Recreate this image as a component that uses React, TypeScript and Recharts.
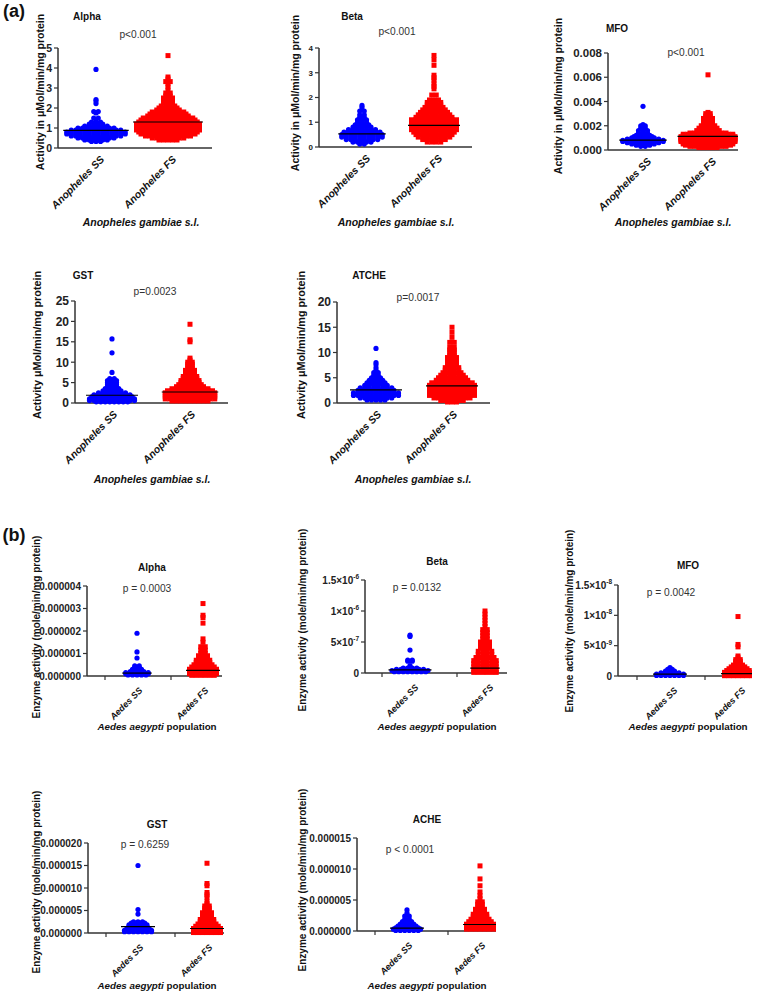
import React from 'react';
import { ScatterChart, Scatter, XAxis, YAxis } from 'recharts';

const FONT = '"Liberation Sans", Arial, Helvetica, sans-serif';
const AXIS = '#333';
const BLUE = '#0000ff';
const RED = '#ff0000';

// each row = [activity level, number of mosquitoes plotted at that level]
type Row = [number, number];

// (a) Anopheles gambiae s.l. — µMol/min/mg protein
const anAlphaSS: Row[] = [[3.93, 1], [2.42, 1], [2.35, 1], [2.22, 1], [1.82, 2], [1.75, 1], [1.5, 2], [1.4, 1], [1.3, 3], [1.2, 4], [1.1, 6], [1.0, 9], [0.9, 12], [0.8, 14], [0.7, 14], [0.6, 12], [0.5, 9], [0.4, 6], [0.33, 3]];
const anAlphaFS: Row[] = [[4.62, 1], [3.55, 1], [3.45, 1], [3.32, 2], [3.2, 1], [3.05, 1], [2.9, 1], [2.75, 2], [2.6, 2], [2.5, 3], [2.4, 3], [2.25, 3], [2.1, 4], [2.0, 5], [1.9, 6], [1.8, 8], [1.7, 9], [1.6, 10], [1.5, 12], [1.4, 13], [1.3, 14], [1.2, 15], [1.1, 15], [1.0, 15], [0.9, 15], [0.8, 14], [0.7, 13], [0.6, 11], [0.5, 8], [0.4, 5]];
const anBetaSS: Row[] = [[1.68, 1], [1.6, 1], [1.45, 2], [1.3, 2], [1.2, 2], [1.1, 3], [1.0, 3], [0.9, 4], [0.8, 5], [0.7, 7], [0.6, 9], [0.5, 10], [0.4, 10], [0.3, 8], [0.2, 5], [0.12, 2]];
const anBetaFS: Row[] = [[3.7, 1], [3.52, 1], [3.3, 1], [2.9, 1], [2.8, 1], [2.7, 1], [2.55, 1], [2.45, 1], [2.35, 1], [2.1, 2], [1.9, 3], [1.8, 4], [1.7, 4], [1.6, 5], [1.5, 6], [1.4, 7], [1.3, 8], [1.2, 9], [1.1, 11], [1.0, 11], [0.9, 11], [0.8, 11], [0.7, 11], [0.6, 10], [0.5, 9], [0.4, 8], [0.3, 6], [0.2, 4]];
const anMfoSS: Row[] = [[0.0036, 1], [0.0021, 1], [0.002, 2], [0.0018, 2], [0.0016, 3], [0.0014, 3], [0.0012, 4], [0.0011, 5], [0.001, 6], [0.0009, 8], [0.0008, 10], [0.0007, 10], [0.0006, 8], [0.0005, 6], [0.0004, 4], [0.0003, 2]];
const anMfoFS: Row[] = [[0.0062, 1], [0.0031, 1], [0.003, 2], [0.0028, 2], [0.0026, 3], [0.0024, 3], [0.0022, 3], [0.002, 4], [0.0018, 5], [0.0016, 6], [0.0014, 9], [0.0013, 12], [0.0012, 12], [0.0011, 13], [0.001, 13], [0.0009, 13], [0.0008, 13], [0.0007, 13], [0.0006, 12], [0.0005, 12], [0.0004, 11], [0.0003, 9], [0.0002, 5]];
const anGstSS: Row[] = [[15.7, 1], [12.3, 1], [7.5, 1], [6, 2], [5.5, 3], [5, 3], [4.5, 3], [4, 3], [3.5, 4], [3, 5], [2.5, 7], [2, 9], [1.5, 10], [1, 11], [0.6, 11], [0.3, 8]];
const anGstFS: Row[] = [[19.3, 1], [15.5, 1], [15, 1], [11, 1], [10.5, 1], [10, 2], [9.5, 2], [9, 2], [8.5, 2], [8, 3], [7.5, 3], [7, 3], [6.5, 4], [6, 4], [5.5, 5], [5, 5], [4.5, 6], [4, 7], [3.5, 9], [3, 11], [2.5, 12], [2, 12], [1.5, 12], [1, 12], [0.5, 9]];
const anAtcheSS: Row[] = [[10.8, 1], [8, 1], [7.6, 1], [7, 1], [6.5, 1], [6, 2], [5.5, 2], [5, 3], [4.5, 4], [4, 5], [3.5, 6], [3, 8], [2.5, 9], [2, 11], [1.5, 11], [1, 8], [0.6, 5]];
const anAtcheFS: Row[] = [[15, 1], [14, 1], [13, 1], [12, 2], [11, 2], [10.5, 2], [10, 2], [9.5, 2], [9, 3], [8.5, 3], [8, 3], [7.5, 3], [7, 4], [6.5, 4], [6, 5], [5.5, 6], [5, 7], [4.5, 8], [4, 10], [3.5, 11], [3, 11], [2.5, 11], [2, 11], [1.5, 11], [1, 9], [0.5, 6], [0.2, 3]];

// (b) Aedes aegypti — mole/min/mg protein, in the unit noted per series
const aeAlphaSS: Row[] = [[1.9, 1], [1.07, 1], [0.8, 1], [0.45, 2], [0.38, 2], [0.3, 3], [0.2, 4], [0.15, 6], [0.1, 6], [0.05, 5]]; // ×1e-6
const aeAlphaFS: Row[] = [[3.22, 1], [2.7, 1], [2.6, 1], [2.35, 1], [1.65, 1], [1.5, 1], [1.3, 2], [1.15, 2], [1.0, 2], [0.9, 3], [0.8, 3], [0.7, 4], [0.6, 4], [0.5, 5], [0.4, 6], [0.3, 7], [0.2, 7], [0.1, 7], [0.03, 6]];
const aeBetaSS: Row[] = [[6.1, 1], [5.9, 1], [3.7, 1], [2.1, 2], [1.9, 2], [1.2, 1], [0.8, 4], [0.6, 7], [0.4, 9], [0.2, 8]]; // ×1e-7
const aeBetaFS: Row[] = [[10, 1], [9.5, 1], [9, 1], [8.5, 1], [8, 1], [7.5, 1], [7, 2], [6.5, 2], [6, 2], [5.5, 2], [5, 3], [4.5, 3], [4, 3], [3.5, 4], [3, 4], [2.5, 5], [2, 6], [1.5, 6], [1, 6], [0.5, 6], [0.1, 6]];
const aeMfoSS: Row[] = [[1.4, 1], [1.1, 2], [0.8, 3], [0.5, 5], [0.3, 7], [0.1, 7]]; // ×1e-9
const aeMfoFS: Row[] = [[9.8, 1], [5.2, 1], [4.8, 1], [3.3, 1], [3.0, 1], [2.7, 2], [2.4, 2], [2.1, 2], [1.8, 3], [1.5, 4], [1.2, 5], [0.9, 6], [0.6, 7], [0.3, 7], [0.05, 7]];
const aeGstSS: Row[] = [[15, 1], [5.2, 1], [4.2, 1], [2.5, 3], [2.2, 4], [1.8, 5], [1.5, 5], [1.2, 5], [0.9, 6], [0.6, 7], [0.3, 7]]; // ×1e-6
const aeGstFS: Row[] = [[15.5, 1], [11, 1], [10.5, 1], [9, 1], [8.5, 1], [8, 1], [7, 1], [6.5, 1], [6, 2], [5.5, 2], [5, 2], [4.5, 3], [4, 3], [3.5, 3], [3, 4], [2.5, 4], [2, 5], [1.5, 6], [1, 7], [0.5, 7], [0.1, 7]];
const aeAcheSS: Row[] = [[3.4, 1], [2.9, 1], [2.4, 2], [1.9, 2], [1.5, 3], [1.1, 4], [0.8, 5], [0.5, 6], [0.3, 7], [0.1, 6]]; // ×1e-6
const aeAcheFS: Row[] = [[10.5, 1], [8.4, 1], [7.3, 1], [6.3, 1], [5.7, 1], [5.2, 1], [4.7, 2], [4.3, 2], [3.9, 2], [3.5, 3], [3.1, 3], [2.7, 4], [2.3, 4], [1.9, 5], [1.5, 6], [1.1, 7], [0.7, 7], [0.3, 7]];

// group means (horizontal bars)
const anMeans = { alpha: [0.88, 1.3], beta: [0.53, 0.87], mfo: [0.00082, 0.00112], gst: [1.9, 2.7], atche: [2.6, 3.4] };
const aeMeans = { alpha: [0.13, 0.25], beta: [0.5, 0.8], mfo: [0.3, 0.4], gst: [1.4, 1.0], ache: [0.45, 1.05] };

const anCats = ['Anopheles SS', 'Anopheles FS'];
const aeCats = ['Aedes SS', 'Aedes FS'];

// y tick values + labels
const ticksAlphaA = [0, 1, 2, 3, 4, 5];
const ticksBetaA = [0, 1, 2, 3, 4];
const ticksMfoA = [0, 0.002, 0.004, 0.006, 0.008];
const labelsMfoA = ['0.000', '0.002', '0.004', '0.006', '0.008'];
const ticksGstA = [0, 5, 10, 15, 20, 25];
const ticksAtcheA = [0, 5, 10, 15, 20];
const ticksAlphaB = [0, 1, 2, 3, 4];
const labelsAlphaB = ['0.000000', '0.000001', '0.000002', '0.000003', '0.000004'];
const ticksBetaB = [0, 5, 10, 15];
const labelsBetaB = ['0', '5×10^-7', '1×10^-6', '1.5×10^-6'];
const ticksMfoB = [0, 5, 10, 15];
const labelsMfoB = ['0', '5×10^-9', '1×10^-8', '1.5×10^-8'];
const ticksGstB = [0, 5, 10, 15, 20];
const labelsGstB = ['0.000000', '0.000005', '0.000010', '0.000015', '0.000020'];
const ticksAcheB = [0, 5, 10, 15];
const labelsAcheB = ['0.000000', '0.000005', '0.000010', '0.000015'];

type PanelCfg = {
  plot: [number, number, number, number];
  centers: [number, number];
  ss: Row[];
  fs: Row[];
  means: number[];
  ticks: number[];
  labels?: string[];
  tickFont: number;
  cats: string[];
  catFont: number;
  catShift: [number, number];
  mark?: number;
  step?: number;
};

const panels: PanelCfg[] = [
  { plot: [58, 48, 154, 100], centers: [96, 168], ss: anAlphaSS, fs: anAlphaFS, means: anMeans.alpha, ticks: ticksAlphaA, tickFont: 10.5, cats: anCats, catFont: 10.4, catShift: [9, 12] },
  { plot: [319, 48, 153, 99], centers: [362, 434], ss: anBetaSS, fs: anBetaFS, means: anMeans.beta, ticks: ticksBetaA, tickFont: 8, cats: anCats, catFont: 10.4, catShift: [9, 12] },
  { plot: [608, 53, 130, 97], centers: [643, 708], ss: anMfoSS, fs: anMfoFS, means: anMeans.mfo, ticks: ticksMfoA, labels: labelsMfoA, tickFont: 11.5, cats: anCats, catFont: 10.4, catShift: [9, 12] },
  { plot: [75, 301, 153, 102], centers: [112, 190], ss: anGstSS, fs: anGstFS, means: anMeans.gst, ticks: ticksGstA, tickFont: 12, cats: anCats, catFont: 10.4, catShift: [6, 12] },
  { plot: [337, 302, 153, 101], centers: [376, 452], ss: anAtcheSS, fs: anAtcheFS, means: anMeans.atche, ticks: ticksAtcheA, tickFont: 12, cats: anCats, catFont: 10.4, catShift: [6, 12] },
  { plot: [87, 586, 135, 90], centers: [137, 203], ss: aeAlphaSS, fs: aeAlphaFS, means: aeMeans.alpha, ticks: ticksAlphaB, labels: labelsAlphaB, tickFont: 10, cats: aeCats, catFont: 9, catShift: [6, 15], mark: 32 },
  { plot: [365, 580, 142, 93], centers: [410, 485], ss: aeBetaSS, fs: aeBetaFS, means: aeMeans.beta, ticks: ticksBetaB, labels: labelsBetaB, tickFont: 10, cats: aeCats, catFont: 9, catShift: [9, 15], mark: 28 },
  { plot: [618, 585, 134, 91], centers: [670, 738], ss: aeMfoSS, fs: aeMfoFS, means: aeMeans.mfo, ticks: ticksMfoB, labels: labelsMfoB, tickFont: 10, cats: aeCats, catFont: 9, catShift: [8, 15], mark: 33 },
  { plot: [88, 843, 136, 90], centers: [138, 207], ss: aeGstSS, fs: aeGstFS, means: aeMeans.gst, ticks: ticksGstB, labels: labelsGstB, tickFont: 10, cats: aeCats, catFont: 9, catShift: [6, 15], mark: 32 },
  { plot: [357, 838, 139, 93], centers: [407, 480], ss: aeAcheSS, fs: aeAcheFS, means: aeMeans.ache, ticks: ticksAcheB, labels: labelsAcheB, tickFont: 10, cats: aeCats, catFont: 9, catShift: [6, 15], mark: 32 },
];

const titles = [
  { t: 'Alpha', x: 87, y: 17 }, { t: 'Beta', x: 352, y: 17 }, { t: 'MFO', x: 617, y: 29 },
  { t: 'GST', x: 83, y: 276 }, { t: 'ATCHE', x: 369, y: 276 },
  { t: 'Alpha', x: 152, y: 568 }, { t: 'Beta', x: 437, y: 562 }, { t: 'MFO', x: 688, y: 566 },
  { t: 'GST', x: 157, y: 825 }, { t: 'ACHE', x: 427, y: 820 },
];
const pValues = [
  { t: 'p<0.001', x: 138, y: 35 }, { t: 'p<0.001', x: 397, y: 32 }, { t: 'p<0.001', x: 686, y: 53 },
  { t: 'p=0.0023', x: 155, y: 292 }, { t: 'p=0.0017', x: 418, y: 298 },
  { t: 'p = 0.0003', x: 147, y: 589 }, { t: 'p = 0.0132', x: 417, y: 588 }, { t: 'p = 0.0042', x: 671, y: 593 },
  { t: 'p = 0.6259', x: 145, y: 845 }, { t: 'p < 0.0001', x: 410, y: 850 },
];
const yTitles = [
  { t: 'Activity in μMol/min/mg protein', x: 40, y: 92, s: 10.5 },
  { t: 'Activity in μMol/min/mg protein', x: 295, y: 93, s: 10.5 },
  { t: 'Activity in μMol/min/mg protein', x: 558, y: 96, s: 10.5 },
  { t: 'Activity μMol/min/mg protein', x: 37, y: 345, s: 10.8 },
  { t: 'Activity μMol/min/mg protein', x: 301, y: 345, s: 10.8 },
  { t: 'Enzyme activity (mole/min/mg protein)', x: 37, y: 627, s: 10 },
  { t: 'Enzyme activity (mole/min/mg protein)', x: 303, y: 620, s: 10 },
  { t: 'Enzyme activity (mole/min/mg protein)', x: 570, y: 621, s: 10 },
  { t: 'Enzyme activity (mole/min/mg protein)', x: 37, y: 882, s: 10 },
  { t: 'Enzyme activity (mole/min/mg protein)', x: 303, y: 880, s: 10 },
];
const anXTitles = [{ x: 141, y: 222 }, { x: 396, y: 222 }, { x: 673, y: 222 }, { x: 152, y: 479 }, { x: 413, y: 479 }];
const aeXTitles = [{ x: 157, y: 727 }, { x: 437, y: 727 }, { x: 688, y: 727 }, { x: 157, y: 986 }, { x: 427, y: 986 }];

function swarm(rows: Row[], cat: number, unitStep: number) {
  const pts: { x: number; y: number }[] = [];
  rows.forEach(([v, n]) => {
    for (let i = 0; i < n; i++) pts.push({ x: cat + (i - (n - 1) / 2) * unitStep, y: v });
  });
  return pts;
}

const Dot = (props: any) => <circle cx={props.cx} cy={props.cy} r={2.6} fill={BLUE} />;
const Sq = (props: any) => <rect x={props.cx - 2.5} y={props.cy - 2.5} width={5} height={5} fill={RED} />;
const Nothing = () => <g />;

function ValTick(props: any) {
  const { x, y, index, labels, ticks, font } = props;
  const s: string = labels ? labels[index] : String(ticks[index]);
  const [base, exp] = s.split('^');
  return (
    <text x={x} y={y} dy={font * 0.36} textAnchor="end" fontSize={font} fontWeight="bold" fontFamily={FONT} fill="#222">
      {base}
      {exp ? <tspan dy={-font * 0.45} fontSize={font * 0.65}>{exp}</tspan> : null}
    </text>
  );
}

function CatTick(props: any) {
  const { x, y, index, cats, font, shift, mark } = props;
  return (
    <g>
      {mark ? <line x1={x - mark} x2={x - mark} y1={y} y2={y + 4} stroke={AXIS} strokeWidth={1.2} /> : null}
      <text transform={`translate(${x + shift[0]},${y + shift[1]}) rotate(-45)`} textAnchor="end" fontSize={font} fontWeight="bold" fontStyle="italic" fontFamily={FONT} fill="#111">
        {cats[index]}
      </text>
    </g>
  );
}

function Panel({ p }: { p: PanelCfg }) {
  const [px, py, pw, ph] = p.plot;
  const s = p.centers[1] - p.centers[0];
  const x0 = 1 - (p.centers[0] - px) / s;
  const x1 = x0 + pw / s;
  const step = p.step ?? 4.5;
  const ss = swarm(p.ss, 1, step / s);
  const fs = swarm(p.fs, 2, step / s);
  const half = (rows: Row[]) => ((Math.max(...rows.map((r) => r[1])) - 1) * step + 7) / 2 / s;
  const meanSS = [{ x: 1 - half(p.ss), y: p.means[0] }, { x: 1 + half(p.ss), y: p.means[0] }];
  const meanFS = [{ x: 2 - half(p.fs), y: p.means[1] }, { x: 2 + half(p.fs), y: p.means[1] }];
  const yMax = p.ticks[p.ticks.length - 1];
  const W = 70 + pw + 14;
  const H = 10 + ph + 90;
  return (
    <div style={{ position: 'absolute', left: px - 70, top: py - 10 }}>
      <ScatterChart width={W} height={H} margin={{ top: 10, right: 14, left: 0, bottom: 0 }} style={{ overflow: 'visible' }}>
        <XAxis
          type="number"
          dataKey="x"
          domain={[x0, x1]}
          allowDataOverflow
          ticks={[1, 2]}
          interval={0}
          height={90}
          tickLine={false}
          tickSize={0}
          tickMargin={0}
          axisLine={{ stroke: AXIS, strokeWidth: 1.5 }}
          tick={<CatTick cats={p.cats} font={p.catFont} shift={p.catShift} mark={p.mark} />}
        />
        <YAxis
          type="number"
          dataKey="y"
          domain={[0, yMax]}
          ticks={p.ticks}
          interval={0}
          width={70}
          tickSize={4}
          tickMargin={2}
          axisLine={{ stroke: AXIS, strokeWidth: 1.5 }}
          tickLine={{ stroke: AXIS, strokeWidth: 1.2 }}
          tick={<ValTick labels={p.labels} ticks={p.ticks} font={p.tickFont} />}
        />
        <Scatter data={ss} shape={Dot} isAnimationActive={false} />
        <Scatter data={fs} shape={Sq} isAnimationActive={false} />
        <Scatter data={meanSS} shape={Nothing} line={{ stroke: '#000', strokeWidth: 1.2 }} isAnimationActive={false} />
        <Scatter data={meanFS} shape={Nothing} line={{ stroke: '#000', strokeWidth: 1.2 }} isAnimationActive={false} />
      </ScatterChart>
    </div>
  );
}

function Txt({ x, y, size, weight = 'bold', italic = false, rotate = false, color = '#111', children }: any) {
  return (
    <div
      style={{
        position: 'absolute',
        left: x,
        top: y,
        transform: `translate(-50%, -50%)${rotate ? ' rotate(-90deg)' : ''}`,
        whiteSpace: 'nowrap',
        fontFamily: FONT,
        fontSize: size,
        fontWeight: weight,
        fontStyle: italic ? 'italic' : 'normal',
        color,
        lineHeight: 1,
      }}
    >
      {children}
    </div>
  );
}

export default function App() {
  return (
    <div style={{ position: 'absolute', left: 0, top: 0, width: 757, height: 992, overflow: 'hidden', background: '#fff' }}>
      {panels.map((p, i) => (
        <Panel key={i} p={p} />
      ))}
      <Txt x={14} y={11} size={18}>(a)</Txt>
      <Txt x={14} y={535} size={18}>(b)</Txt>
      {titles.map((d, i) => (
        <Txt key={'t' + i} x={d.x} y={d.y} size={10}>{d.t}</Txt>
      ))}
      {pValues.map((d, i) => (
        <Txt key={'p' + i} x={d.x} y={d.y} size={10.2} weight="normal" color="#333">{d.t}</Txt>
      ))}
      {yTitles.map((d, i) => (
        <Txt key={'y' + i} x={d.x} y={d.y} size={d.s} rotate>{d.t}</Txt>
      ))}
      {anXTitles.map((d, i) => (
        <Txt key={'ax' + i} x={d.x} y={d.y} size={10.5} italic>Anopheles gambiae s.l.</Txt>
      ))}
      {aeXTitles.map((d, i) => (
        <Txt key={'bx' + i} x={d.x} y={d.y} size={9.8}>
          <i>Aedes aegypti</i> population
        </Txt>
      ))}
    </div>
  );
}
